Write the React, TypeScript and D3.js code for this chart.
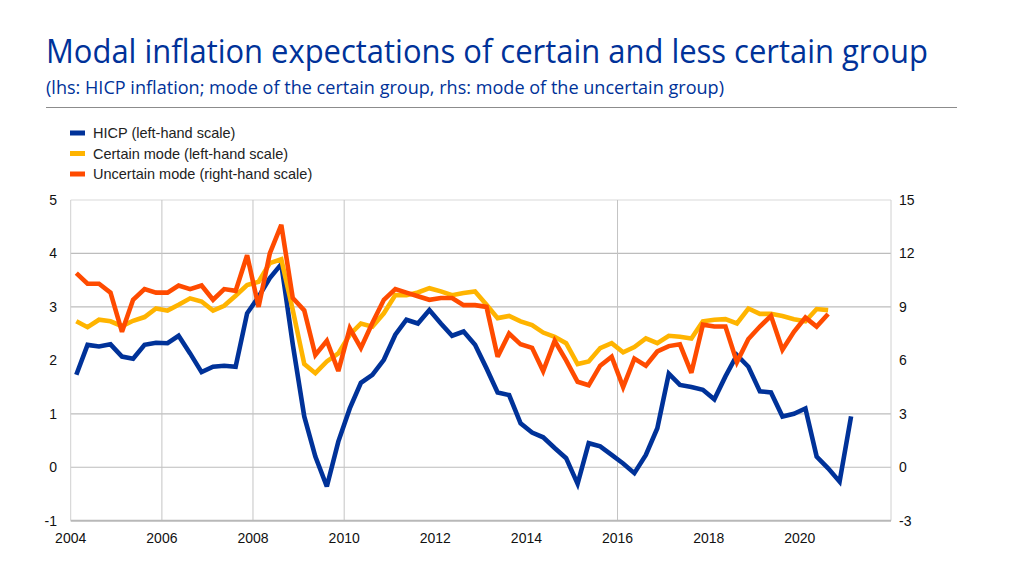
import React from "react";
import * as d3 from "d3";

// quarterly observations, first one is 2004 Q1
const startYear = 2004;

// HICP inflation, left-hand scale (2004Q1 - 2021Q1)
const hicp = [
  1.73, 2.29, 2.26, 2.3, 2.07, 2.03, 2.29, 2.33, 2.32, 2.46,
  2.13, 1.78, 1.88, 1.9, 1.88, 2.88, 3.19, 3.54, 3.8, 2.3,
  0.95, 0.2, -0.36, 0.48, 1.1, 1.58, 1.73, 2.01, 2.48, 2.76,
  2.69, 2.94, 2.69, 2.46, 2.54, 2.29, 1.85, 1.4, 1.35, 0.82,
  0.65, 0.56, 0.36, 0.17, -0.31, 0.45, 0.39, 0.23, 0.07, -0.11,
  0.23, 0.73, 1.75, 1.54, 1.5, 1.45, 1.27, 1.7, 2.1, 1.88,
  1.42, 1.4, 0.95, 1.0, 1.1, 0.2, -0.02, -0.27, 0.95,
];

// mode of the certain group, left-hand scale (2004Q1 - 2020Q3)
const certainMode = [
  2.73, 2.62, 2.76, 2.73, 2.64, 2.74, 2.81, 2.97, 2.93, 3.04,
  3.16, 3.1, 2.93, 3.02, 3.21, 3.41, 3.47, 3.82, 3.89, 2.94,
  1.93, 1.76, 1.98, 2.13, 2.48, 2.69, 2.63, 2.88, 3.22, 3.22,
  3.27, 3.35, 3.29, 3.22, 3.26, 3.29, 3.04, 2.79, 2.83, 2.73,
  2.66, 2.52, 2.44, 2.32, 1.93, 1.98, 2.23, 2.32, 2.15, 2.25,
  2.41, 2.32, 2.46, 2.44, 2.41, 2.73, 2.76, 2.77, 2.69, 2.97,
  2.87, 2.87, 2.83, 2.77, 2.73, 2.96, 2.94,
];

// mode of the uncertain group, right-hand scale (2004Q1 - 2020Q3)
const uncertainMode = [
  10.9, 10.3, 10.3, 9.8, 7.6, 9.4, 10.0, 9.8, 9.8, 10.2,
  10.0, 10.2, 9.4, 10.0, 9.9, 11.9, 9.0, 12.0, 13.6, 9.5,
  8.8, 6.3, 7.1, 5.4, 7.8, 6.7, 8.1, 9.4, 10.0, 9.8,
  9.6, 9.4, 9.5, 9.5, 9.1, 9.1, 9.0, 6.2, 7.5, 6.9,
  6.7, 5.4, 7.1, 6.0, 4.8, 4.6, 5.7, 6.2, 4.5, 6.1,
  5.7, 6.5, 6.8, 6.9, 5.3, 8.0, 7.9, 7.9, 5.9, 7.2,
  7.9, 8.5, 6.6, 7.6, 8.4, 7.9, 8.6,
];

const xTicks = [2004, 2006, 2008, 2010, 2012, 2014, 2016, 2018, 2020];
const leftTicks = [-1, 0, 1, 2, 3, 4, 5];
const rightTicks = [-3, 0, 3, 6, 9, 12, 15];
// gridlines that show in the original
const gridValues = [0, 1, 3, 4, 5];
const gridYears = [2006, 2008, 2010, 2016];

const series = [
  { name: "HICP (left-hand scale)", color: "#003299", values: hicp, axis: "left" },
  { name: "Certain mode (left-hand scale)", color: "#ffb400", values: certainMode, axis: "left" },
  { name: "Uncertain mode (right-hand scale)", color: "#ff4b00", values: uncertainMode, axis: "right" },
];

const width = 1024;
const height = 576;
const plot = { left: 70.7, right: 891, top: 200, bottom: 520.7 };
const tickFont = "'Liberation Sans', Arial, sans-serif";
const blue = "#003299";

// middle of the quarter
function quarterDate(i: number) {
  const y = startYear + Math.floor(i / 4);
  return new Date(y, (i % 4) * 3 + 1, 15);
}

const App: React.FC = () => {
  const x = d3
    .scaleTime()
    .domain([new Date(2004, 0, 1), new Date(2022, 0, 1)])
    .range([plot.left, plot.right]);
  const yLeft = d3.scaleLinear().domain([-1, 5]).range([plot.bottom, plot.top]);
  const yRight = d3.scaleLinear().domain([-3, 15]).range([plot.bottom, plot.top]);

  const lineFor = (axis: string) =>
    d3
      .line<number>()
      .x((_, i) => x(quarterDate(i)))
      .y((d) => (axis === "left" ? yLeft(d) : yRight(d)));

  return (
    <svg
      width={width}
      height={height}
      style={{ position: "absolute", left: 0, top: 0, background: "#fff" }}
    >
      {/* title */}
      <text
        x={46}
        y={63}
        fill={blue}
        fontFamily="'Open Sans', sans-serif"
        fontSize={33}
        textLength={882}
        lengthAdjust="spacingAndGlyphs"
      >
        Modal inflation expectations of certain and less certain group
      </text>
      <text
        x={46}
        y={94}
        fill={blue}
        fontFamily="'Open Sans', sans-serif"
        fontSize={18}
        textLength={678}
        lengthAdjust="spacingAndGlyphs"
      >
        (lhs: HICP inflation; mode of the certain group, rhs: mode of the uncertain group)
      </text>
      <line x1={46} x2={957} y1={107.5} y2={107.5} stroke="#8c8c8c" strokeWidth={1} />

      {/* legend */}
      {series.map((s, i) => (
        <g key={s.name} transform={`translate(70,${133 + i * 20.5})`}>
          <rect x={0} y={-2.5} width={15} height={5} fill={s.color} />
          <text x={23} y={0} dy="0.35em" fontFamily={tickFont} fontSize={14.5} fill="#222">
            {s.name}
          </text>
        </g>
      ))}

      {/* grid */}
      {gridValues.map((v) => (
        <line
          key={"h" + v}
          x1={plot.left}
          x2={plot.right}
          y1={yLeft(v)}
          y2={yLeft(v)}
          stroke={v === 5 ? "#d9d9d9" : "#bdbdbd"}
          strokeWidth={1.2}
        />
      ))}
      {gridYears.map((yr) => (
        <line
          key={"v" + yr}
          x1={x(new Date(yr, 0, 1))}
          x2={x(new Date(yr, 0, 1))}
          y1={plot.top}
          y2={plot.bottom}
          stroke="#c4c4c4"
          strokeWidth={1}
        />
      ))}
      <line x1={plot.left} x2={plot.left} y1={plot.top} y2={plot.bottom} stroke="#d0d0d0" />
      <line x1={plot.right} x2={plot.right} y1={plot.top} y2={plot.bottom} stroke="#d0d0d0" />
      <line
        x1={plot.left}
        x2={plot.right}
        y1={plot.bottom}
        y2={plot.bottom}
        stroke="#b8b8b8"
        strokeWidth={2}
      />

      {/* axes labels */}
      {leftTicks.map((v) => (
        <text
          key={"l" + v}
          x={57}
          y={yLeft(v)}
          dy="0.35em"
          textAnchor="end"
          fontFamily={tickFont}
          fontSize={14}
          fill="#111"
        >
          {v}
        </text>
      ))}
      {rightTicks.map((v) => (
        <text
          key={"r" + v}
          x={899}
          y={yRight(v)}
          dy="0.35em"
          textAnchor="start"
          fontFamily={tickFont}
          fontSize={14}
          fill="#111"
        >
          {v}
        </text>
      ))}
      {xTicks.map((yr) => (
        <text
          key={"x" + yr}
          x={x(new Date(yr, 0, 1))}
          y={538}
          dy="0.35em"
          textAnchor="middle"
          fontFamily={tickFont}
          fontSize={14}
          fill="#111"
        >
          {yr}
        </text>
      ))}

      {/* lines */}
      {series.map((s) => (
        <path
          key={s.name}
          d={lineFor(s.axis)(s.values) ?? undefined}
          fill="none"
          stroke={s.color}
          strokeWidth={4.6}
          strokeLinejoin="miter"
          strokeMiterlimit={3}
        />
      ))}
    </svg>
  );
};

export default App;
